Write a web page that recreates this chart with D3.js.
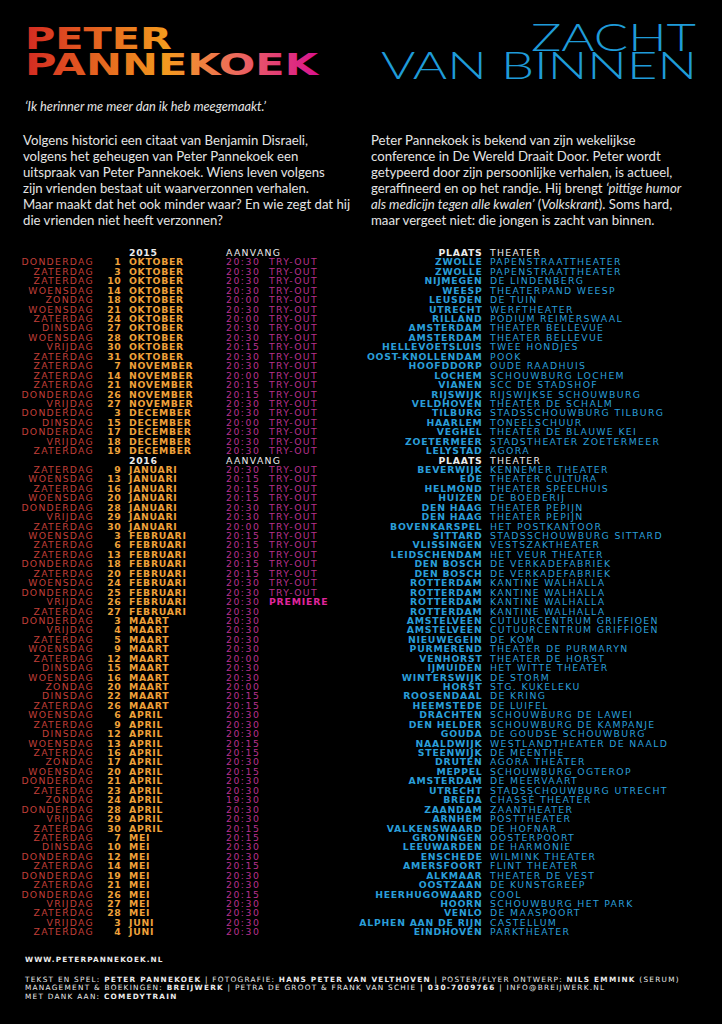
<!DOCTYPE html>
<html><head><meta charset="utf-8">
<script src="https://cdn.jsdelivr.net/npm/d3@7"></script>
<style>
html,body{margin:0;padding:0;background:#000;}
svg{display:block;}
</style></head>
<body>
<svg id="poster" width="722" height="1024"></svg>
<script>
// ---------- DATA ----------
const titleLeft = ["PETER", "PANNEKOEK"];
const titleRight = ["ZACHT", "VAN BINNEN"];
const quote = "‘Ik herinner me meer dan ik heb meegemaakt.’";
const introLeft = [
  "Volgens historici een citaat van Benjamin Disraeli,",
  "volgens het geheugen van Peter Pannekoek een",
  "uitspraak van Peter Pannekoek. Wiens leven volgens",
  "zijn vrienden bestaat uit waarverzonnen verhalen.",
  "Maar maakt dat het ook minder waar? En wie zegt dat hij",
  "die vrienden niet heeft verzonnen?"
];
// [text, italic]
const introRight = [
  [["Peter Pannekoek is bekend van zijn wekelijkse", 0]],
  [["conference in De Wereld Draait Door. Peter wordt", 0]],
  [["getypeerd door zijn persoonlijke verhalen, is actueel,", 0]],
  [["geraffineerd en op het randje. Hij brengt ", 0], ["‘pittige humor", 1]],
  [["als medicijn tegen alle kwalen’", 1], [" (", 0], ["Volkskrant", 1], ["). Soms hard,", 0]],
  [["maar vergeet niet: die jongen is zacht van binnen.", 0]]
];
const years = ["2015", "2016"];
const headTime = "AANVANG";
const headPlace = "PLAATS";
const headTheater = "THEATER";

const days2015 = ["DONDERDAG","ZATERDAG","ZATERDAG","WOENSDAG","ZONDAG","WOENSDAG","ZATERDAG","DINSDAG","WOENSDAG","VRIJDAG","ZATERDAG",
  "ZATERDAG","ZATERDAG","ZATERDAG","DONDERDAG","VRIJDAG",
  "DONDERDAG","DINSDAG","DONDERDAG","VRIJDAG","ZATERDAG"];
const nums2015 = [1,3,10,14,18,21,24,27,28,30,31, 7,14,21,26,27, 3,15,17,18,19];
const months2015 = ["OKTOBER","OKTOBER","OKTOBER","OKTOBER","OKTOBER","OKTOBER","OKTOBER","OKTOBER","OKTOBER","OKTOBER","OKTOBER",
  "NOVEMBER","NOVEMBER","NOVEMBER","NOVEMBER","NOVEMBER",
  "DECEMBER","DECEMBER","DECEMBER","DECEMBER","DECEMBER"];
const times2015 = ["20:30","20:30","20:30","20:30","20:00","20:30","20:00","20:30","20:30","20:15","20:30",
  "20:30","20:00","20:15","20:15","20:30",
  "20:30","20:00","20:30","20:30","20:30"];
const status2015 = Array.from({length: 21}, () => "TRY-OUT");
const places2015 = ["ZWOLLE","ZWOLLE","NIJMEGEN","WEESP","LEUSDEN","UTRECHT","RILLAND","AMSTERDAM","AMSTERDAM","HELLEVOETSLUIS","OOST-KNOLLENDAM",
  "HOOFDDORP","LOCHEM","VIANEN","RIJSWIJK","VELDHOVEN","TILBURG","HAARLEM","VEGHEL","ZOETERMEER","LELYSTAD"];
const theaters2015 = ["PAPENSTRAATTHEATER","PAPENSTRAATTHEATER","DE LINDENBERG","THEATERPAND WEESP","DE TUIN","WERFTHEATER","PODIUM REIMERSWAAL",
  "THEATER BELLEVUE","THEATER BELLEVUE","TWEE HONDJES","POOK","OUDE RAADHUIS","SCHOUWBURG LOCHEM","SCC DE STADSHOF",
  "RIJSWIJKSE SCHOUWBURG","THEATER DE SCHALM","STADSSCHOUWBURG TILBURG","TONEELSCHUUR","THEATER DE BLAUWE KEI",
  "STADSTHEATER ZOETERMEER","AGORA"];

const days2016 = ["ZATERDAG","WOENSDAG","ZATERDAG","WOENSDAG","DONDERDAG","VRIJDAG","ZATERDAG",
  "WOENSDAG","ZATERDAG","ZATERDAG","DONDERDAG","ZATERDAG","WOENSDAG","DONDERDAG","VRIJDAG","ZATERDAG",
  "DONDERDAG","VRIJDAG","ZATERDAG","WOENSDAG","ZATERDAG","DINSDAG","WOENSDAG","ZONDAG","DINSDAG","ZATERDAG",
  "WOENSDAG","ZATERDAG","DINSDAG","WOENSDAG","ZATERDAG","ZONDAG","WOENSDAG","DONDERDAG","ZATERDAG","ZONDAG","DONDERDAG","VRIJDAG","ZATERDAG",
  "ZATERDAG","DINSDAG","DONDERDAG","ZATERDAG","DONDERDAG","ZATERDAG","DONDERDAG","VRIJDAG","ZATERDAG",
  "VRIJDAG","ZATERDAG"];
const nums2016 = [9,13,16,20,28,29,30, 3,6,13,18,20,24,25,26,27, 3,4,5,9,12,15,16,20,22,26,
  6,9,12,13,16,17,20,21,23,24,28,29,30, 7,10,12,14,19,21,26,27,28, 3,4];
const months2016 = [].concat(
  Array(7).fill("JANUARI"), Array(9).fill("FEBRUARI"), Array(10).fill("MAART"),
  Array(13).fill("APRIL"), Array(9).fill("MEI"), Array(2).fill("JUNI"));
const times2016 = ["20:30","20:15","20:15","20:15","20:30","20:30","20:00",
  "20:15","20:15","20:30","20:15","20:15","20:30","20:30","20:30","20:30",
  "20:30","20:30","20:30","20:30","20:00","20:30","20:30","20:00","20:15","20:15",
  "20:30","20:30","20:30","20:15","20:15","20:30","20:15","20:30","20:30","19:30","20:30","20:30","20:15",
  "20:15","20:30","20:30","20:15","20:30","20:30","20:15","20:30","20:30",
  "20:30","20:30"];
const status2016 = [].concat(Array(14).fill("TRY-OUT"), ["PREMIERE"], Array(35).fill(""));
const places2016 = ["BEVERWIJK","EDE","HELMOND","HUIZEN","DEN HAAG","DEN HAAG","BOVENKARSPEL","SITTARD","VLISSINGEN","LEIDSCHENDAM",
  "DEN BOSCH","DEN BOSCH","ROTTERDAM","ROTTERDAM","ROTTERDAM","ROTTERDAM","AMSTELVEEN","AMSTELVEEN","NIEUWEGEIN","PURMEREND",
  "VENHORST","IJMUIDEN","WINTERSWIJK","HORST","ROOSENDAAL","HEEMSTEDE","DRACHTEN","DEN HELDER","GOUDA","NAALDWIJK",
  "STEENWIJK","DRUTEN","MEPPEL","AMSTERDAM","UTRECHT","BREDA","ZAANDAM","ARNHEM","VALKENSWAARD","GRONINGEN",
  "LEEUWARDEN","ENSCHEDE","AMERSFOORT","ALKMAAR","OOSTZAAN","HEERHUGOWAARD","HOORN","VENLO","ALPHEN AAN DE RIJN","EINDHOVEN"];
const theaters2016 = ["KENNEMER THEATER","THEATER CULTURA","THEATER SPEELHUIS","DE BOEDERIJ","THEATER PEPIJN","THEATER PEPIJN",
  "HET POSTKANTOOR","STADSSCHOUWBURG SITTARD","VESTSZAKTHEATER","HET VEUR THEATER","DE VERKADEFABRIEK","DE VERKADEFABRIEK",
  "KANTINE WALHALLA","KANTINE WALHALLA","KANTINE WALHALLA","KANTINE WALHALLA","CUTUURCENTRUM GRIFFIOEN","CUTUURCENTRUM GRIFFIOEN",
  "DE KOM","THEATER DE PURMARYN","THEATER DE HORST","HET WITTE THEATER","DE STORM","STG. KUKELEKU","DE KRING","DE LUIFEL",
  "SCHOUWBURG DE LAWEI","SCHOUWBURG DE KAMPANJE","DE GOUDSE SCHOUWBURG","WESTLANDTHEATER DE NAALD","DE MEENTHE","AGORA THEATER",
  "SCHOUWBURG OGTEROP","DE MEERVAART","STADSSCHOUWBURG UTRECHT","CHASSÉ THEATER","ZAANTHEATER","POSTTHEATER","DE HOFNAR",
  "OOSTERPOORT","DE HARMONIE","WILMINK THEATER","FLINT THEATER","THEATER DE VEST","DE KUNSTGREEP","COOL","SCHOUWBURG HET PARK",
  "DE MAASPOORT","CASTELLUM","PARKTHEATER"];

const website = "WWW.PETERPANNEKOEK.NL";
// [text, bold]
const credits = [
  [["TEKST EN SPEL: ",0],["PETER PANNEKOEK",1],[" | FOTOGRAFIE: ",0],["HANS PETER VAN VELTHOVEN",1],[" | POSTER/FLYER ONTWERP: ",0],["NILS EMMINK",1],[" (SERUM)",0]],
  [["MANAGEMENT & BOEKINGEN: ",0],["BREIJWERK",1],[" | PETRA DE GROOT & FRANK VAN SCHIE ",0],["| 030-7009766",1],[" | INFO@BREIJWERK.NL",0]],
  [["MET DANK AAN: ",0],["COMEDYTRAIN",1]]
];

// ---------- BUILD ROWS ----------
function block(year, days, nums, months, times, status, places, theaters) {
  const out = [{header: true, year}];
  days.forEach((d, i) => out.push({
    day: d, num: nums[i], month: months[i], time: times[i], status: status[i],
    place: places[i], theater: theaters[i]
  }));
  return out;
}
const rows = [].concat(
  block(years[0], days2015, nums2015, months2015, times2015, status2015, places2015, theaters2015),
  block(years[1], days2016, nums2016, months2016, times2016, status2016, places2016, theaters2016)
);

// ---------- DRAW ----------
const svg = d3.select("#poster");
svg.append("rect").attr("width", 722).attr("height", 1024).attr("fill", "#000");

const defs = svg.append("defs");
const grad = defs.append("linearGradient").attr("id", "tgrad")
  .attr("gradientUnits", "userSpaceOnUse").attr("x1", 25).attr("x2", 318).attr("y1", 0).attr("y2", 0);
[[0, "#d42a22"], [0.48, "#f39a1e"], [0.72, "#ec6a5c"], [1, "#d8138e"]].forEach(([o, c]) =>
  grad.append("stop").attr("offset", o).attr("stop-color", c));

const TECH = "'DejaVu Sans', sans-serif";
const BODY = "Lato, 'Open Sans', sans-serif";

// Title left (one text block, two lines)
svg.append("text")
  .attr("font-family", TECH).attr("font-weight", "bold").attr("font-size", 30.5)
  .attr("fill", "url(#tgrad)")
  .selectAll("tspan").data(titleLeft).join("tspan")
  .attr("x", 25)
  .attr("y", (d, i) => [48.5, 74.5][i])
  .attr("textLength", (d, i) => [147, 293][i])
  .attr("lengthAdjust", "spacingAndGlyphs")
  .text(d => d);

// Title right (one text block, two lines)
svg.append("text")
  .attr("font-family", "Lato, sans-serif").attr("font-weight", 300).attr("font-size", 37)
  .attr("fill", "#1f9bd8")
  .selectAll("tspan").data(titleRight).join("tspan")
  .attr("x", (d, i) => [531, 381][i])
  .attr("y", (d, i) => [50.5, 79][i])
  .attr("textLength", (d, i) => [165, 316][i])
  .attr("lengthAdjust", "spacingAndGlyphs")
  .text(d => d);

// Quote
svg.append("text").attr("x", 25).attr("y", 110.5)
  .attr("font-family", BODY).attr("font-style", "italic").attr("font-size", 12.8)
  .attr("fill", "#e4e4e4").text(quote);

// Intro paragraphs
const lineY = d3.scaleLinear().domain([0, 5]).range([144.5, 224.5]);
svg.append("g").selectAll("text").data(introLeft).join("text")
  .attr("x", 23).attr("y", (d, i) => lineY(i))
  .attr("font-family", BODY).attr("font-size", 13.2).attr("fill", "#e4e4e4")
  .text(d => d);

svg.append("g").selectAll("text").data(introRight).join("text")
  .attr("x", 371).attr("y", (d, i) => lineY(i))
  .attr("font-family", BODY).attr("font-size", 13.2).attr("fill", "#e4e4e4")
  .selectAll("tspan").data(d => d).join("tspan")
  .attr("font-style", d => d[1] ? "italic" : "normal")
  .text(d => d[0]);

// Schedule
const rowY = d3.scaleLinear().domain([0, rows.length - 1]).range([256, 935.3]);
const FS = 9.3;
const col = {day: 94, num: 121.5, month: 129, time: 226, status: 269, place: 482.5, theater: 490};
const C = {day: "#c13f38", date: "#efa13a", time: "#b7308d", prem: "#e0259d", blue: "#2a9ed9", head: "#ececec"};

const g = svg.append("g").attr("font-family", TECH).attr("font-size", FS);
const rg = g.selectAll("g.row").data(rows).join("g").attr("class", "row")
  .attr("transform", (d, i) => `translate(0,${rowY(i)})`);

function txt(sel, x, anchor, fill, weight, ls, f) {
  sel.append("text").attr("x", x).attr("text-anchor", anchor)
    .attr("fill", fill).attr("font-weight", weight)
    .attr("letter-spacing", ls)
    .text(f);
}
const heads = rg.filter(d => d.header);
txt(heads, col.month, "start", C.head, "bold", 0.7, d => d.year);
txt(heads, col.time, "start", C.head, "normal", 1.3, headTime);
txt(heads, col.place, "end", C.head, "bold", 0.75, headPlace);
txt(heads, col.theater, "start", C.head, "normal", 1.3, headTheater);

const ents = rg.filter(d => !d.header);
txt(ents, col.day, "end", C.day, "normal", 1.25, d => d.day);
txt(ents, col.num, "end", C.date, "bold", 0.7, d => d.num);
txt(ents, col.month, "start", C.date, "bold", 0.7, d => d.month);
txt(ents, col.time, "start", C.time, "normal", 1.5, d => d.time);
ents.filter(d => d.status).append("text").attr("x", col.status)
  .attr("fill", d => d.status === "PREMIERE" ? C.prem : C.time)
  .attr("font-weight", d => d.status === "PREMIERE" ? "bold" : "normal")
  .attr("letter-spacing", d => d.status === "PREMIERE" ? 0.8 : 1.35)
  .text(d => d.status);
txt(ents, col.place, "end", C.blue, "bold", 0.75, d => d.place);
txt(ents, col.theater, "start", C.blue, "normal", 1.35, d => d.theater);

// Footer
svg.append("text").attr("x", 25).attr("y", 962)
  .attr("font-family", TECH).attr("font-weight", "bold").attr("font-size", 7.3)
  .attr("letter-spacing", 1.1).attr("fill", "#ececec").text(website);

const cY = d3.scaleLinear().domain([0, 2]).range([981.5, 998.5]);
svg.append("g").selectAll("text").data(credits).join("text")
  .attr("x", 25).attr("y", (d, i) => cY(i))
  .attr("font-family", TECH).attr("font-size", 7.3).attr("letter-spacing", 1.27).attr("fill", "#ececec")
  .selectAll("tspan").data(d => d).join("tspan")
  .attr("font-weight", d => d[1] ? "bold" : "normal")
  .text(d => d[0]);
</script>
</body></html>
